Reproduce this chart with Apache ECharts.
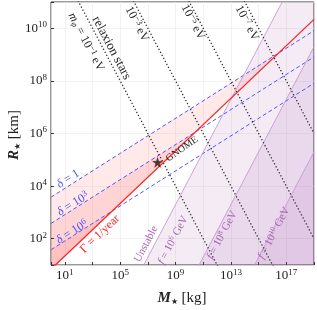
<!DOCTYPE html>
<html><head><meta charset="utf-8">
<script src="https://cdn.jsdelivr.net/npm/echarts@6/dist/echarts.min.js"></script>
<style>html,body{margin:0;padding:0;background:#fff}#c{width:317px;height:310px}</style>
</head><body><div id="c"></div>
<script>
// ---- data: all values are exponents of 10 (log10 M[kg], log10 R[km]) ----
const lineMassExp = [0, 19];                       // M at the two ends of every straight line
const gammaRadiusExp = [0.84, 10.34];              // Γ = 1/year
const deltaNames = ['1', '3', '6'];                // δ = 10^0, 10^3, 10^6
const deltaRadiusExp = [[3.58, 9.91], [2.58, 8.91], [1.58, 7.91]];
const relaxionMassExp = ['-1', '-3', '-5', '-7'];  // m_φ [eV]
const relaxionRadiusExp = [[13, -6], [17, -2], [21, 2], [25, 6]];
const fExp = ['6', '8', '10'];                     // f [GeV]
const fRadiusExp = [[-5.7, 13.3], [-9.7, 9.3], [-13.7, 5.3]];
const gnomePoint = [7.7, 4.9];
const xTickExp = [1, 5, 9, 13, 17];
const yTickExp = [2, 4, 6, 8, 10];

const SERIF = 'Liberation Serif';
const chart = echarts.init(document.getElementById('c'), null, {renderer: 'canvas'});

function seg(r) { return [[lineMassExp[0], r[0]], [lineMassExp[1], r[1]]]; }
function lineAt(r, x) { return r[0] + (r[1] - r[0]) * (x - lineMassExp[0]) / (lineMassExp[1] - lineMassExp[0]); }
function intersect(a, b) {
  const sa = (a[1] - a[0]) / (lineMassExp[1] - lineMassExp[0]);
  const sb = (b[1] - b[0]) / (lineMassExp[1] - lineMassExp[0]);
  const x = lineMassExp[0] + (b[0] - a[0]) / (sa - sb);
  return [x, lineAt(a, x)];
}
function polySeries(points, color) {
  return {
    type: 'custom', xAxisIndex: 0, yAxisIndex: 0, silent: true, z: 1,
    data: [[points[0][0], points[0][1]]],
    renderItem(params, api) {
      const cs = params.coordSys;
      return {
        type: 'polygon',
        shape: {points: points.map(p => api.coord(p))},
        style: {fill: color},
        clipPath: {type: 'rect', shape: {x: cs.x, y: cs.y, width: cs.width, height: cs.height}}
      };
    }
  };
}
function lineSeries(r, color, type, width, z) {
  return {
    type: 'line', xAxisIndex: 0, yAxisIndex: 0, data: seg(r), showSymbol: false, silent: true,
    clip: true, z: z,
    lineStyle: {color: color, type: type, width: width}
  };
}

const series = [];
// pink fills between each δ line and Γ line
deltaRadiusExp.forEach(d => {
  const p = intersect(d, gammaRadiusExp);
  series.push(polySeries([[lineMassExp[0], d[0]], p, [lineMassExp[0], gammaRadiusExp[0]]], 'rgba(255,0,0,0.085)'));
});
// purple unstable regions
fRadiusExp.forEach(f => {
  series.push(polySeries([[lineMassExp[0], f[0]], [lineMassExp[1], f[1]], [lineMassExp[1], f[0]]], 'rgba(150,60,160,0.10)'));
});
deltaRadiusExp.forEach(d => series.push(lineSeries(d, '#5555ff', [4, 2.6], 1, 3)));
fRadiusExp.forEach(f => series.push(lineSeries(f, '#c69ad2', 'solid', 0.9, 3)));
relaxionRadiusExp.forEach(r => series.push(lineSeries(r, '#333', [1.3, 2.1], 1.3, 4)));
series.push(lineSeries(gammaRadiusExp, '#ff2222', 'solid', 1.3, 5));
series.push({
  type: 'scatter', xAxisIndex: 0, yAxisIndex: 0, data: [gnomePoint], z: 6, silent: true,
  symbol: 'path://M50,0 L61,35 L98,35 L68,57 L79,91 L50,70 L21,91 L32,57 L2,35 L39,35 Z',
  symbolSize: 10, itemStyle: {color: '#111', borderColor: '#600', borderWidth: 0.4}
});

const labelRich = {
  b: {fontFamily: SERIF, fontSize: 13, lineHeight: 16, color: '#222'},
  s: {fontFamily: SERIF, fontSize: 9, lineHeight: 4, verticalAlign: 'top', color: '#222'}
};

chart.setOption({
  animation: false,
  backgroundColor: '#fff',
  grid: {left: 51, top: 2, width: 263, height: 263, show: true, borderColor: '#333', borderWidth: 1, backgroundColor: '#fff'},
  xAxis: [
    {type: 'value', min: 0, max: 19, show: false},
    {type: 'value', min: -1, max: 18, minInterval: 2, maxInterval: 2, position: 'bottom',
     axisLine: {show: false},
     axisTick: {show: true, inside: true, length: 3, lineStyle: {color: '#333'}},
     splitLine: {show: true, lineStyle: {color: '#ececec', width: 0.7}},
     axisLabel: {margin: 3, rich: labelRich,
       formatter: v => { const e = Math.round(v + 1); return (Math.abs(v + 1 - e) < 1e-9 && xTickExp.includes(e)) ? '{b|10}{s|' + e + '}' : ''; }}}
  ],
  yAxis: [
    {type: 'value', min: 1, max: 11, minInterval: 2, maxInterval: 2,
     axisLine: {show: false},
     axisTick: {show: true, inside: true, length: 3, lineStyle: {color: '#333'}},
     splitLine: {show: true, lineStyle: {color: '#ececec', width: 0.7}},
     axisLabel: {margin: 4, rich: labelRich,
       formatter: v => { const e = Math.round(v); return (Math.abs(v - e) < 1e-9 && yTickExp.includes(e)) ? '{b|10}{s|' + e + '}' : ''; }}}
  ],
  series: series
});

// ---- annotations ----
const D = Math.PI / 180;
const A_DOT = -62.2 * D, A_GAM = 43.5 * D, A_DEL = 32.3 * D, A_F = 62.2 * D;
function rich(color, size) {
  return {
    n: {fill: color, fontFamily: SERIF, fontSize: size, lineHeight: size + 2},
    i: {fill: color, fontFamily: SERIF, fontSize: size, lineHeight: size + 2, fontStyle: 'italic'},
    sup: {fill: color, fontFamily: SERIF, fontSize: size - 3.5, lineHeight: 3, verticalAlign: 'top'},
    sub: {fill: color, fontFamily: SERIF, fontSize: size - 3.5, lineHeight: 6, verticalAlign: 'bottom', fontStyle: 'italic'}
  };
}
function txt(x, y, rot, text, color, size) {
  return {type: 'text', x: x, y: y, rotation: rot, z: 100, silent: true,
    style: {text: text, rich: rich(color, size), fill: color, align: 'center', verticalAlign: 'middle'}};
}
const K = '#222', BL = '#4f4fff', PU = '#a765b5', RD = '#ff2020';
const g = [
  txt(86, 42, A_DOT, '{i|m}{sub|φ}{n| = 10}{sup|−' + relaxionMassExp[0].slice(1) + '}{n| eV}', K, 12),
  txt(111.5, 48, A_DOT, '{n|relaxion stars}', K, 13),
  txt(137, 24, A_DOT, '{n|10}{sup|−' + relaxionMassExp[1].slice(1) + '}{n| eV}', K, 12),
  txt(193, 22, A_DOT, '{n|10}{sup|−' + relaxionMassExp[2].slice(1) + '}{n| eV}', K, 12),
  txt(247, 23, A_DOT, '{n|10}{sup|−' + relaxionMassExp[3].slice(1) + '}{n| eV}', K, 12),
  txt(68, 179, A_DEL, '{i|δ}{n| = 1}', BL, 12),
  txt(73, 204, A_DEL, '{i|δ}{n| = 10}{sup|' + deltaNames[1] + '}', BL, 12),
  txt(72, 232, A_DEL, '{i|δ}{n| = 10}{sup|' + deltaNames[2] + '}', BL, 12),
  txt(100, 234, A_GAM, '{n|Γ = 1/year}', RD, 12),
  txt(182, 149, 35 * D, '{n|GNOME}', K, 10),
  txt(146, 244, A_F, '{n|Unstable}', PU, 11),
  txt(173, 240, A_F, '{i|f}{n| = 10}{sup|' + fExp[0] + '}{n| GeV}', PU, 11),
  txt(222, 235, A_F, '{i|f}{n| = 10}{sup|' + fExp[1] + '}{n| GeV}', PU, 11),
  txt(274, 233, A_F, '{i|f}{n| = 10}{sup|' + fExp[2] + '}{n| GeV}', PU, 11),
  {type: 'text', x: 182, y: 298, silent: true, z: 100,
   style: {text: '{m|M}{st|★}{n| [kg]}', align: 'center', verticalAlign: 'middle', fill: '#222',
     rich: {m: {fill: '#222', fontFamily: SERIF, fontSize: 15, fontStyle: 'italic', fontWeight: 'bold', lineHeight: 16},
            st: {fill: '#222', fontSize: 8, lineHeight: 6, verticalAlign: 'bottom'},
            n: {fill: '#222', fontFamily: SERIF, fontSize: 15, lineHeight: 16}}}},
  {type: 'text', x: 14, y: 135, rotation: Math.PI / 2, silent: true, z: 100,
   style: {text: '{m|R}{st|★}{n| [km]}', align: 'center', verticalAlign: 'middle', fill: '#222',
     rich: {m: {fill: '#222', fontFamily: SERIF, fontSize: 15, fontStyle: 'italic', fontWeight: 'bold', lineHeight: 16},
            st: {fill: '#222', fontSize: 8, lineHeight: 6, verticalAlign: 'bottom'},
            n: {fill: '#222', fontFamily: SERIF, fontSize: 15, lineHeight: 16}}}}
];
chart.setOption({graphic: g});
</script></body></html>
